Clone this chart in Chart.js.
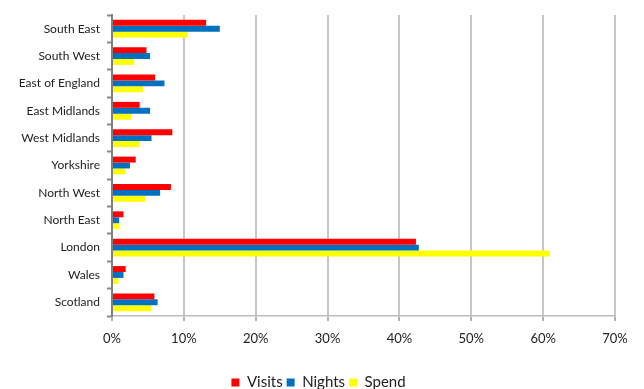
<!DOCTYPE html>
<html>
<head>
<meta charset="utf-8">
<script src="https://cdn.jsdelivr.net/npm/chart.js@4/dist/chart.umd.min.js"></script>
<style>
  html, body { margin: 0; padding: 0; background: #fff; overflow: hidden; }
  #wrap { position: relative; width: 644px; height: 400px; }
</style>
</head>
<body>
<div id="wrap"><canvas id="c"></canvas></div>
<script>
const categories = ["South East", "South West", "East of England", "East Midlands", "West Midlands", "Yorkshire", "North West", "North East", "London", "Wales", "Scotland"];
const visits = [13.1, 4.8, 6.0, 3.85, 8.4, 3.3, 8.2, 1.6, 42.3, 1.9, 5.9];
const nights = [15.0, 5.3, 7.3, 5.3, 5.5, 2.5, 6.7, 1.0, 42.7, 1.6, 6.35];
const spend  = [10.5, 3.1, 4.3, 2.7, 3.8, 1.8, 4.6, 1.0, 60.9, 0.9, 5.5];
const seriesNames = ["Visits", "Nights", "Spend"];
const xTicks = [0, 10, 20, 30, 40, 50, 60, 70];

const colors = ["#FF0000", "#0070C0", "#FFFF00"];
const FONT = "Lato";

const legendShift = {
  id: "legendShift",
  afterLayout(chart) {
    if (chart.legend) { chart.legend.left += 11; chart.legend.right += 11; }
  }
};

new Chart(document.getElementById("c"), {
  type: "bar",
  data: {
    labels: categories,
    datasets: [visits, nights, spend].map((d, i) => ({
      label: seriesNames[i],
      data: d,
      backgroundColor: colors[i],
      borderWidth: 0,
      categoryPercentage: 0.65,
      barPercentage: 1.0
    }))
  },
  plugins: [legendShift],
  options: {
    indexAxis: "y",
    responsive: true,
    maintainAspectRatio: false,
    animation: false,
    layout: { padding: { left: 0, right: 29, top: 15, bottom: 0 } },
    plugins: {
      legend: {
        position: "bottom",
        labels: {
          font: { family: FONT, size: 15 },
          color: "#222",
          boxWidth: 8,
          boxHeight: 8,
          padding: 4
        }
      },
      tooltip: { enabled: false }
    },
    scales: {
      x: {
        min: 0,
        max: 70,
        afterBuildTicks: (s) => { s.ticks = xTicks.map(v => ({ value: v })); },
        afterFit: (s) => { s.height = 55; },
        ticks: {
          callback: (v) => v + "%",
          font: { family: FONT, size: 13 },
          color: "#222",
          padding: 10,
          maxRotation: 0
        },
        grid: {
          color: "#c6c6c6",
          lineWidth: 2,
          tickColor: "#999",
          tickLength: 5,
          tickWidth: 1.5
        },
        border: { color: "#bbb", width: 1.5 }
      },
      y: {
        afterFit: (s) => { s.width = 112; },
        ticks: {
          font: { family: FONT, size: 12 },
          color: "#222",
          padding: 7
        },
        grid: {
          drawOnChartArea: false,
          tickColor: "#888",
          tickLength: 5,
          tickWidth: 2
        },
        border: { color: "#808080", width: 2 }
      }
    }
  }
});
</script>
</body>
</html>
